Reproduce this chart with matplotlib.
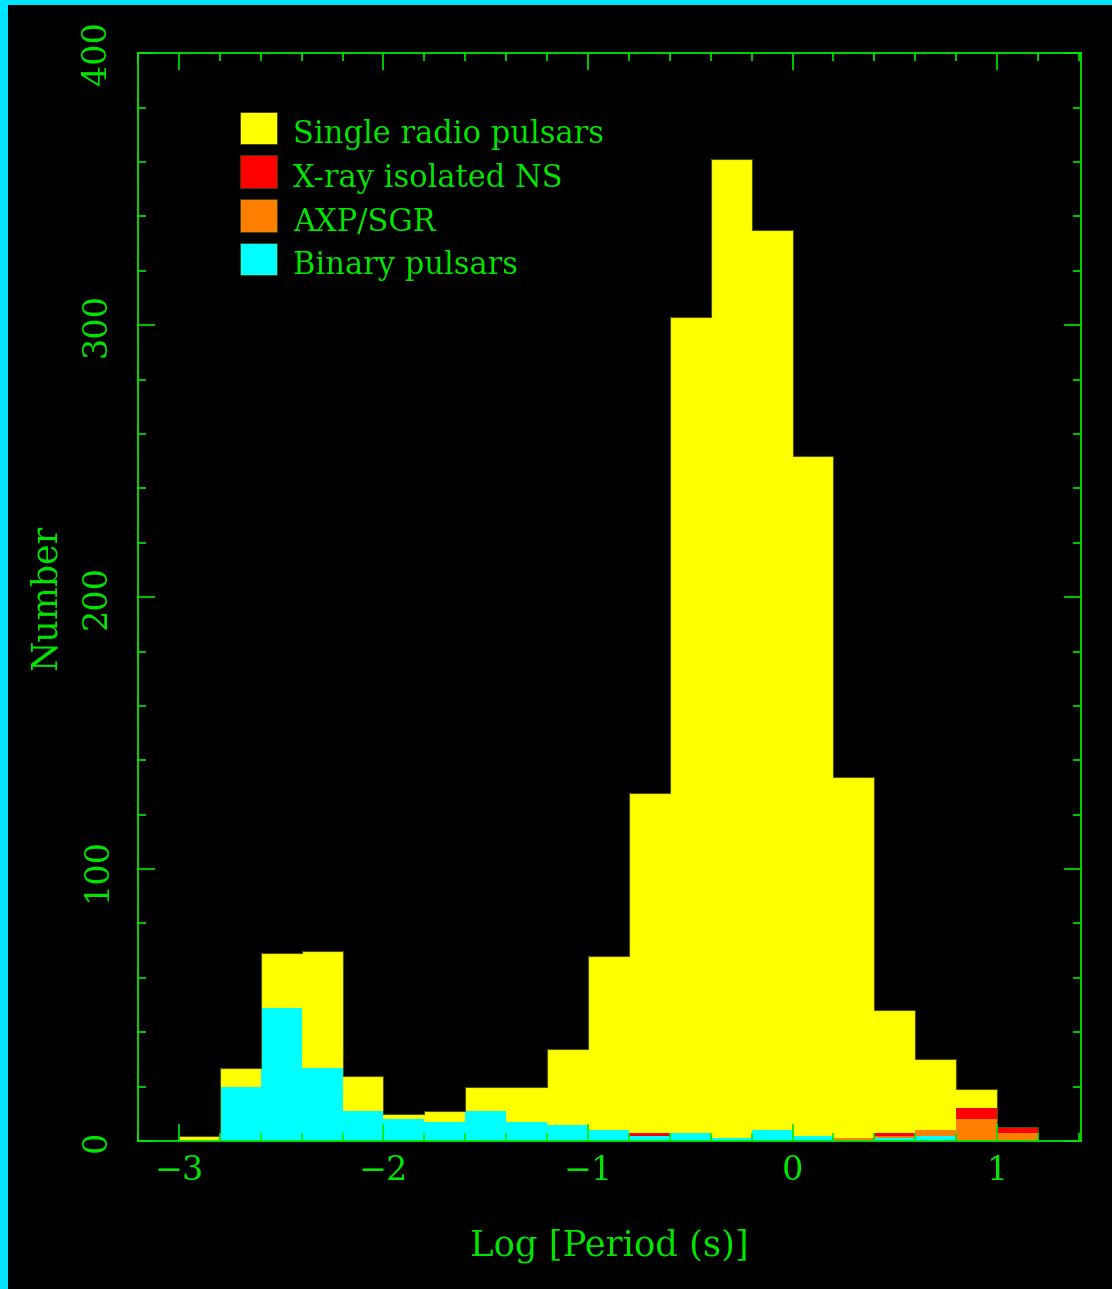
import numpy as np
import matplotlib
matplotlib.use('Agg')
import matplotlib.pyplot as plt
from matplotlib.patches import Rectangle
from matplotlib.ticker import MultipleLocator

# Histogram of log10(period), bins of width 0.2 starting at -3.0
bin_left = [-3.0, -2.8, -2.6, -2.4, -2.2, -2.0, -1.8, -1.6, -1.4, -1.2, -1.0,
            -0.8, -0.6, -0.4, -0.2, 0.0, 0.2, 0.4, 0.6, 0.8, 1.0]
bin_width = 0.2

# counts per class (stacked: binary, AXP/SGR, X-ray INS, single radio)
binary = [0, 20, 49, 27, 11, 8, 7, 11, 7, 6, 4, 2, 3, 1, 4, 2, 0, 1, 2, 0, 0]
axp_sgr = [0, 0, 0, 0, 0, 0, 0, 0, 0, 0, 0, 0, 0, 0, 0, 0, 1, 1, 2, 8, 3]
xray_ins = [0, 0, 0, 0, 0, 0, 0, 0, 0, 0, 0, 1, 0, 0, 0, 0, 0, 1, 0, 4, 2]
single = [2, 7, 20, 43, 13, 2, 4, 9, 13, 28, 64, 125, 300, 360, 331, 250,
          133, 45, 26, 7, 0]

labels = ['Single radio pulsars', 'X-ray isolated NS', 'AXP/SGR', 'Binary pulsars']
colors = ['#ffff00', '#ff0000', '#ff8000', '#00ffff']

green = '#00e600'
plt.rcParams['font.family'] = ['DejaVu Serif']

fig = plt.figure(figsize=(11.12, 12.89), dpi=100, facecolor='black')
ax = fig.add_axes([0.1241, 0.1148, 0.8480, 0.8439], facecolor='black')

x = np.array(bin_left)
b0 = np.array(binary, dtype=float)
b1 = b0 + np.array(axp_sgr)
b2 = b1 + np.array(xray_ins)

ax.bar(x, binary, width=bin_width, align='edge', color=colors[3], linewidth=0)
ax.bar(x, axp_sgr, width=bin_width, bottom=b0, align='edge', color=colors[2], linewidth=0)
ax.bar(x, xray_ins, width=bin_width, bottom=b1, align='edge', color=colors[1], linewidth=0)
ax.bar(x, single, width=bin_width, bottom=b2, align='edge', color=colors[0], linewidth=0)

# thin dark outline around the whole histogram
edges = np.append(x, x[-1] + bin_width)
ax.stairs(b2 + np.array(single), edges, color='#505000', linewidth=0.8)

ax.set_xlim(-3.2, 1.41)
ax.set_ylim(0, 400)

for s in ax.spines.values():
    s.set_color(green)
    s.set_linewidth(1.3)

ax.xaxis.set_major_locator(MultipleLocator(1))
ax.xaxis.set_minor_locator(MultipleLocator(0.2))
ax.yaxis.set_major_locator(MultipleLocator(100))
ax.yaxis.set_minor_locator(MultipleLocator(20))
ax.tick_params(which='both', direction='in', top=True, right=True, color=green,
               width=1.2, labelcolor=green, labelsize=24)
ax.tick_params(which='major', length=12)
ax.tick_params(which='minor', length=6)
ax.tick_params(axis='x', pad=10)
ax.tick_params(axis='y', pad=18)
for lab in ax.get_yticklabels():
    lab.set_rotation(90)
    lab.set_va('center')

ax.set_xlabel('Log [Period (s)]', color=green, fontsize=25.5, labelpad=30)
ax.set_ylabel('Number', color=green, fontsize=25, labelpad=13)

# legend boxes
for i, (lab, col) in enumerate(zip(labels, colors)):
    top = 0.9463 - i * 0.0402
    ax.add_patch(Rectangle((0.1082, top - 0.030), 0.0392, 0.030, transform=ax.transAxes,
                           facecolor=col, edgecolor='#404000', linewidth=0.6))
    ax.text(0.1644, top - 0.029, lab, transform=ax.transAxes, color=green,
            fontsize=22, va='baseline', ha='left')

# cyan frame strips
fig.patches.append(Rectangle((0, 0), 0.0072, 1, transform=fig.transFigure,
                             facecolor='#00e5ff', edgecolor='none'))
fig.patches.append(Rectangle((0, 0.9961), 1, 0.0039, transform=fig.transFigure,
                             facecolor='#00e5ff', edgecolor='none'))

fig.savefig('out.png', dpi=100, facecolor='black')
